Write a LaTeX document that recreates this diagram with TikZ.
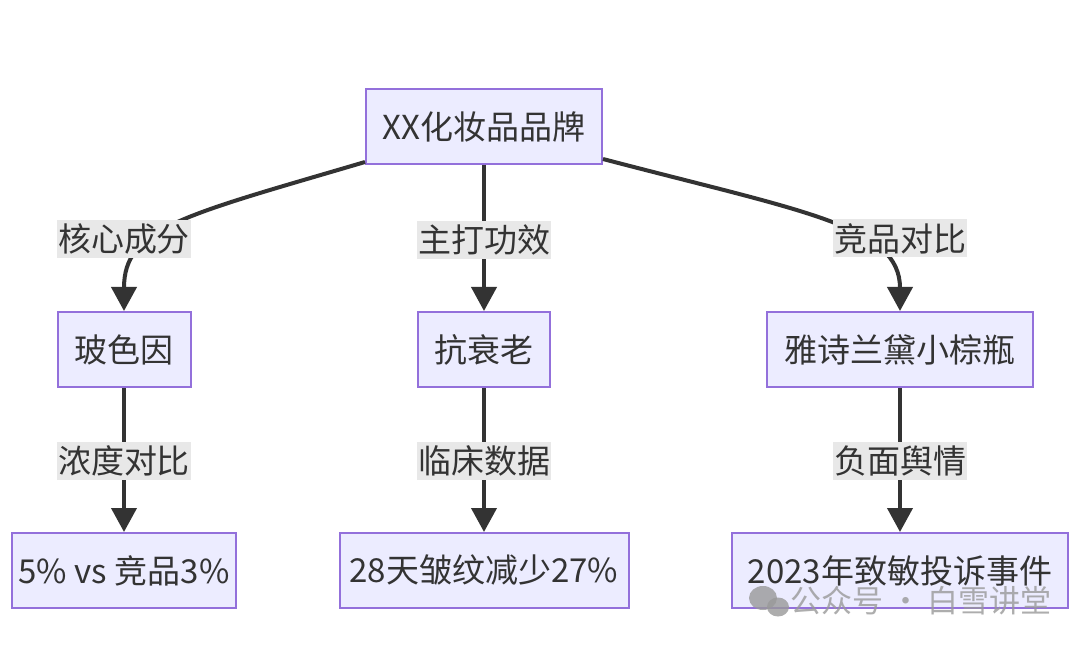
\documentclass[tikz,border=0pt]{standalone}
\usepackage{fontspec}
\setmainfont{Noto Sans CJK SC}
\usetikzlibrary{arrows.meta}
\definecolor{boxfill}{HTML}{ECECFF}
\definecolor{boxline}{HTML}{9370DB}
\definecolor{ink}{HTML}{333333}
\definecolor{lblfill}{HTML}{E8E8E8}
\tikzset{
	box/.style={draw=boxline,fill=boxfill,line width=2pt,text=ink,minimum width=#1,minimum height=75pt,inner sep=0pt,font=\fontsize{33}{39}\selectfont},
	lbl/.style={fill=lblfill,text=ink,inner xsep=1pt,inner ysep=0pt,minimum height=38pt,font=\fontsize{33}{39}\selectfont},
	edge/.style={draw=ink,line width=4pt,-{Triangle[length=24pt,width=25pt]}}
}
\begin{document}
\begin{tikzpicture}[x=1pt,y=-1pt]
						\useasboundingbox [fill=white] (0,0) rectangle (1080,647);
						\node [box=236pt] (brand) at (484,126.5) {XX化妆品品牌};
						\node [box=133pt] (ingr) at (124,349.5) {玻色因};
						\node [box=132pt] (effect) at (484,349.5) {抗衰老};
						\node [box=266pt] (rival) at (900,349.5) {雅诗兰黛小棕瓶};
						\node [box=224pt] (conc) at (124,570.5) {5\% vs 竞品3\%};
						\node [box=289pt] (clinic) at (484,570.5) {28天皱纹减少27\%};
						\node [box=336pt] (risk) at (900,570.5) {2023年致敏投诉事件};

						\draw [edge] (brand.south west) ++(0,-3) .. controls (182,216) and (124,228) .. (ingr.north);
						\draw [edge] (brand.south) -- (effect.north);
						\draw [edge] (brand.south east) ++(0,-6) .. controls (805,212) and (900,226) .. (rival.north);
						\draw [edge] (ingr.south) -- (conc.north);
						\draw [edge] (effect.south) -- (clinic.north);
						\draw [edge] (rival.south) -- (risk.north);

						\node [lbl] (l1) at (124,239) {核心成分};
						\node [lbl] (l2) at (484,240) {主打功效};
						\node [lbl] (l3) at (900,238.5) {竞品对比};
						\node [lbl] (l4) at (124,461) {浓度对比};
						\node [lbl] (l5) at (484,461) {临床数据};
						\node [lbl] (l6) at (900,461) {负面舆情};

						\fill [black!40,opacity=0.8] (763,598) ellipse [x radius=14pt,y radius=12pt];
						\fill [black!40,opacity=0.8] (778,607) ellipse [x radius=11pt,y radius=9.5pt];
						\node [text=black!40,opacity=0.8,font=\fontsize{31}{37}\selectfont] (mark) at (921,601) {公众号 · 白雪讲堂};
					\end{tikzpicture}
\end{document}
